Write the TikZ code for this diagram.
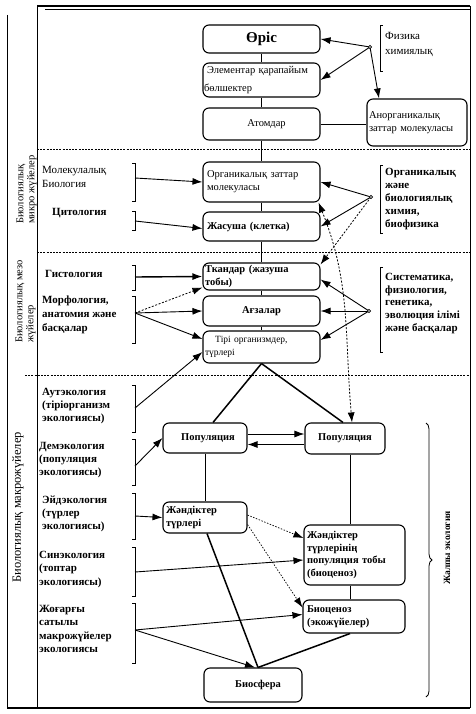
\documentclass[tikz,border=0pt]{standalone}
\usepackage{fontspec}
\setmainfont{Liberation Serif}
\usetikzlibrary{arrows.meta,decorations.pathreplacing,calc}
\begin{document}
\begin{tikzpicture}[x=1pt,y=-1pt,
  box/.style={draw, line width=1.1pt, rounded corners=6pt, inner sep=0pt, font=\fontsize{10.5}{13.3}\selectfont},
  lbox/.style={box, align=left},
  cbox/.style={box, align=center},
  lab/.style={inner sep=0pt, align=left, anchor=west, font=\fontsize{11}{13.3}\selectfont},
  blab/.style={lab, font=\fontsize{11}{13.3}\selectfont\bfseries},
  arr/.style={-{Latex[length=10pt,width=7pt]}, line width=0.9pt},
  tarr/.style={arr, line width=1.4pt},
  darr/.style={arr, dash pattern=on 2pt off 1.6pt, line width=0.8pt},
  dotarr/.style={arr, dash pattern=on 1.5pt off 1.5pt, line width=0.7pt},
  conn/.style={line width=1pt},
  tconn/.style={line width=1.5pt},
  sep/.style={dash pattern=on 2pt off 1.2pt, line width=1pt},
  brk/.style={line width=0.8pt},
  vlab/.style={inner sep=0pt, rotate=90, align=left, anchor=west, font=\fontsize{10.5}{11}\selectfont}
]
\useasboundingbox (0,0) rectangle (475,714);

% frame
\draw[line width=1pt] (37,5) -- (37,708);
\draw[line width=1.3pt] (37,6) -- (470,6);
\draw[line width=0.6pt] (45,9) -- (470,9);
\draw[line width=0.9pt] (470,6) -- (470,708);
\draw[line width=1.1pt] (7,708) -- (470,708);
\draw[line width=0.8pt] (7,15) -- (7,708);
\draw[sep] (37,150) -- (470,150);
\draw[sep] (37,252) -- (470,252);
\draw[sep] (25,375) -- (470,375);

% vertical labels
\node[vlab] (vmicro) at (26.5,224) {Биологиялық\\микро жүйелер};
\node[vlab] (vmeso) at (25.5,343) {Биологиялық мезо\\жүйелер};
\node[vlab, font=\fontsize{12.5}{13}\selectfont] (vmacro) at (18,583) {Биологиялық макрожүйелер};
\node[inner sep=0pt, rotate=90, font=\fontsize{9.5}{10}\selectfont\bfseries] (vgen) at (447,548) {Жалпы экология};
\draw[decorate, decoration={brace, amplitude=6pt}, line width=0.8pt] (426,423) -- (426,697);

% central boxes
\node[cbox, minimum width=117pt, minimum height=28pt, font=\fontsize{15}{17}\selectfont\bfseries] (oris) at (261.5,39) {Өріс};
\node[lbox, minimum width=117pt, minimum height=34pt, text width=115pt] (elem) at (261.5,80) {\hspace*{3pt}Элементар қарапайым\\[4pt]бөлшектер};
\node[cbox, minimum width=117pt, minimum height=32pt] (atom) at (261.5,124) {\hspace*{10pt}Атомдар};
\node[lbox, minimum width=100pt, minimum height=47pt, text width=96pt] (anorg) at (417,122.5) {Анорганикалық\\заттар молекуласы};
\node[lbox, minimum width=117pt, minimum height=40pt, text width=109pt] (org) at (261.5,182) {Органикалық заттар\\молекуласы};
\node[lbox, minimum width=117pt, minimum height=29pt, text width=109pt, font=\fontsize{10.5}{13.3}\selectfont\bfseries] (zhas) at (261.5,226.5) {Жасуша (клетка)};
\node[lbox, minimum width=117pt, minimum height=27pt, text width=113pt, font=\fontsize{10.5}{12.5}\selectfont\bfseries] (tkan) at (261.5,276.5) {Ткандар (жазуша\\тобы)};
\node[cbox, minimum width=117pt, minimum height=30pt, font=\fontsize{10.5}{13.3}\selectfont\bfseries] (agza) at (261.5,311) {Ағзалар};
\node[lbox, minimum width=117pt, minimum height=32pt, text width=113pt, font=\fontsize{9.5}{13}\selectfont] (tiri) at (261.5,347) {\hspace*{10pt}Тірі организмдер,\\түрлері};

% lower boxes
\node[cbox, minimum width=84pt, minimum height=30pt, font=\fontsize{10.5}{13.3}\selectfont\bfseries] (popL) at (205,438) {\hspace*{6pt}Популяция};
\node[cbox, minimum width=80pt, minimum height=31pt, font=\fontsize{10.5}{13.3}\selectfont\bfseries] (popR) at (345,438.5) {Популяция};
\node[lbox, minimum width=84pt, minimum height=31pt, text width=78pt, font=\fontsize{10.5}{13}\selectfont\bfseries] (zhanT) at (205,517.5) {Жәндіктер\\түрлері};
\node[lbox, minimum width=101pt, minimum height=60pt, text width=95pt, font=\fontsize{10.5}{12.7}\selectfont\bfseries] (zhanP) at (354.5,555) {Жәндіктер\\түрлерінің\\популяция тобы\\(биоценоз)};
\node[lbox, minimum width=102pt, minimum height=33pt, text width=94pt, font=\fontsize{10.5}{12.7}\selectfont\bfseries] (bioc) at (354,616.5) {Биоценоз\\(экожүйелер)};
\node[cbox, minimum width=98pt, minimum height=34pt, font=\fontsize{10.5}{13.3}\selectfont\bfseries] (biosf) at (253,685) {\hspace*{10pt}Биосфера};

% vertical chain
\draw[conn] (oris) -- (elem);
\draw[conn] (elem) -- (atom);
\draw[conn] (atom) -- (org);
\draw[conn] (org) -- (zhas);
\draw[conn] (zhas) -- (tkan);
\draw[conn] (tkan) -- (agza);
\draw[conn] (agza) -- (tiri);
\draw[line width=0.6pt] (atom.east) -- (atom.east -| anorg.west);

% right labels and brackets
\node[lab] (fiz) at (385,44.5) {Физика\\[1.5pt]химиялық};
\draw[brk] (383,25) -- (380,25) -- (380,71) -- (383,71);
\node[blab, font=\fontsize{11}{13}\selectfont\bfseries] (orgchem) at (385,199) {Органикалық\\және\\биологиялық\\химия,\\биофизика};
\draw[brk] (383,165) -- (380,165) -- (380,233) -- (383,233);
\node[blab, font=\fontsize{11}{12.7}\selectfont\bfseries] (sys) at (385,303.5) {Систематика,\\физиология,\\генетика,\\эволюция ілімі\\және басқалар};
\draw[brk] (383,267) -- (380,267) -- (380,352) -- (383,352);

\coordinate (d1) at (370,47);
\coordinate (d2) at (371,197);
\coordinate (d3) at (369,311);

\draw[arr] (d1) -- (oris.east);
\draw[arr] (d1) -- (elem.east);
\draw[arr] (d1) -- ([xshift=-38pt]anorg.north);
\draw[arr] (d2) -- (org.east);
\draw[arr] (d2) -- (zhas.east);
\draw[darr] (d2) -- ([yshift=-2pt]tkan.north east);
\draw[arr] (d3) -- ([yshift=-3pt]tkan.east);
\draw[arr] (d3) -- (agza.east);
\draw[arr] (d3) -- ([yshift=7pt]tiri.east);
\draw[darr, {Latex[length=10pt,width=7pt]}-{Latex[length=10pt,width=7pt]}] ([xshift=-2pt]org.south east) to[out=-68, in=95] ([xshift=7pt]popR.north);
\foreach \d in {d1,d2,d3} \draw[fill=white, line width=0.6pt] (\d) circle (1.6pt);

% left labels and brackets
\node[lab] (mol) at (42,177) {Молекулалық\\Биология};
\draw[brk] (132,163) -- (135,163) -- (135,201) -- (132,201);
\coordinate (molb) at (135,178);
\node[blab] (cyt) at (52,213) {Цитология};
\draw[brk] (132,211) -- (135,211) -- (135,230) -- (132,230);
\coordinate (cytb) at (135,221);
\node[blab] (gis) at (45,274) {Гистология};
\draw[brk] (132,265) -- (135,265) -- (135,290) -- (132,290);
\coordinate (gisb) at (135,277);
\node[blab, font=\fontsize{11}{14}\selectfont\bfseries] (mor) at (42,315) {Морфология,\\анатомия және\\басқалар};
\draw[brk] (132,296) -- (135,296) -- (135,343) -- (132,343);
\coordinate (morb) at (135,313);
\node[blab] (aut) at (42,406) {Аутэкология\\(тіріорганизм\\экологиясы)};
\draw[brk] (132,385) -- (135,385) -- (135,432) -- (132,432);
\coordinate (autb) at (135,408);
\node[blab] (dem) at (39,460) {Демэкология\\(популяция\\экологиясы)};
\draw[brk] (132,439) -- (135,439) -- (135,485) -- (132,485);
\coordinate (demb) at (135,466);
\node[blab] (eid) at (42,514) {Эйдэкология\\(түрлер\\экологиясы)};
\draw[brk] (132,493) -- (135,493) -- (135,539) -- (132,539);
\coordinate (eidb) at (135,516);
\node[blab] (syn) at (39,569.5) {Синэкология\\(топтар\\экологиясы)};
\draw[brk] (132,547) -- (135,547) -- (135,596) -- (132,596);
\coordinate (synb) at (135,572);
\node[blab] (zhog) at (39,629) {Жоғарғы\\сатылы\\макрожүйелер\\экологиясы};
\draw[brk] (132,603) -- (135,603) -- (135,663) -- (132,663);
\coordinate (zhogb) at (135,630);

\draw[arr] (molb) -- (org.west);
\draw[arr] (cytb) -- ([yshift=-2pt]zhas.west);
\draw[tarr] (gisb) -- (tkan.west);
\draw[darr] (morb) -- ([yshift=-11pt]tkan.west);
\draw[arr] (morb) -- (agza.west);
\draw[arr] (morb) -- ([yshift=8pt]tiri.west);
\draw[arr] (autb) -- ([yshift=-5pt]tiri.west);
\draw[arr] (demb) -- (popL.west);
\draw[arr] (eidb) -- (zhanT.west);
\draw[arr] (synb) -- ([yshift=-5pt]zhanP.west);
\draw[arr] (zhogb) -- ([yshift=2pt]bioc.west);
\draw[arr] (zhogb) -- ([xshift=2pt]biosf.north);

% lower connections
\draw[tconn] (tiri.south) -- ([xshift=8pt]popL.north);
\draw[tconn] (tiri.south) -- ([xshift=-2pt]popR.north);
\draw[arr] ([yshift=4pt]popL.east) -- ([yshift=4pt]popL.east -| popR.west);
\draw[arr] ([yshift=-6pt]popR.west) -- ([yshift=-6pt]popR.west -| popL.east);
\draw[conn] (popL.south) -- (zhanT.north);
\draw[conn] ([xshift=5pt]popR.south) -- ([xshift=-4.5pt]zhanP.north);
\draw[conn] ([xshift=-4.5pt]zhanP.south) -- ([xshift=-4pt]bioc.north);
\draw[dotarr] ([yshift=2.5pt]zhanT.east) -- ([yshift=17pt]zhanP.west);
\draw[dotarr] ([yshift=-7pt]zhanT.east) -- ([yshift=9pt]bioc.west);
\draw[tconn] ([xshift=2pt]zhanT.south) -- ([xshift=5pt]biosf.north);
\draw[tconn] ([xshift=-4pt]bioc.south) -- ([xshift=5pt]biosf.north);
\end{tikzpicture}
\end{document}
